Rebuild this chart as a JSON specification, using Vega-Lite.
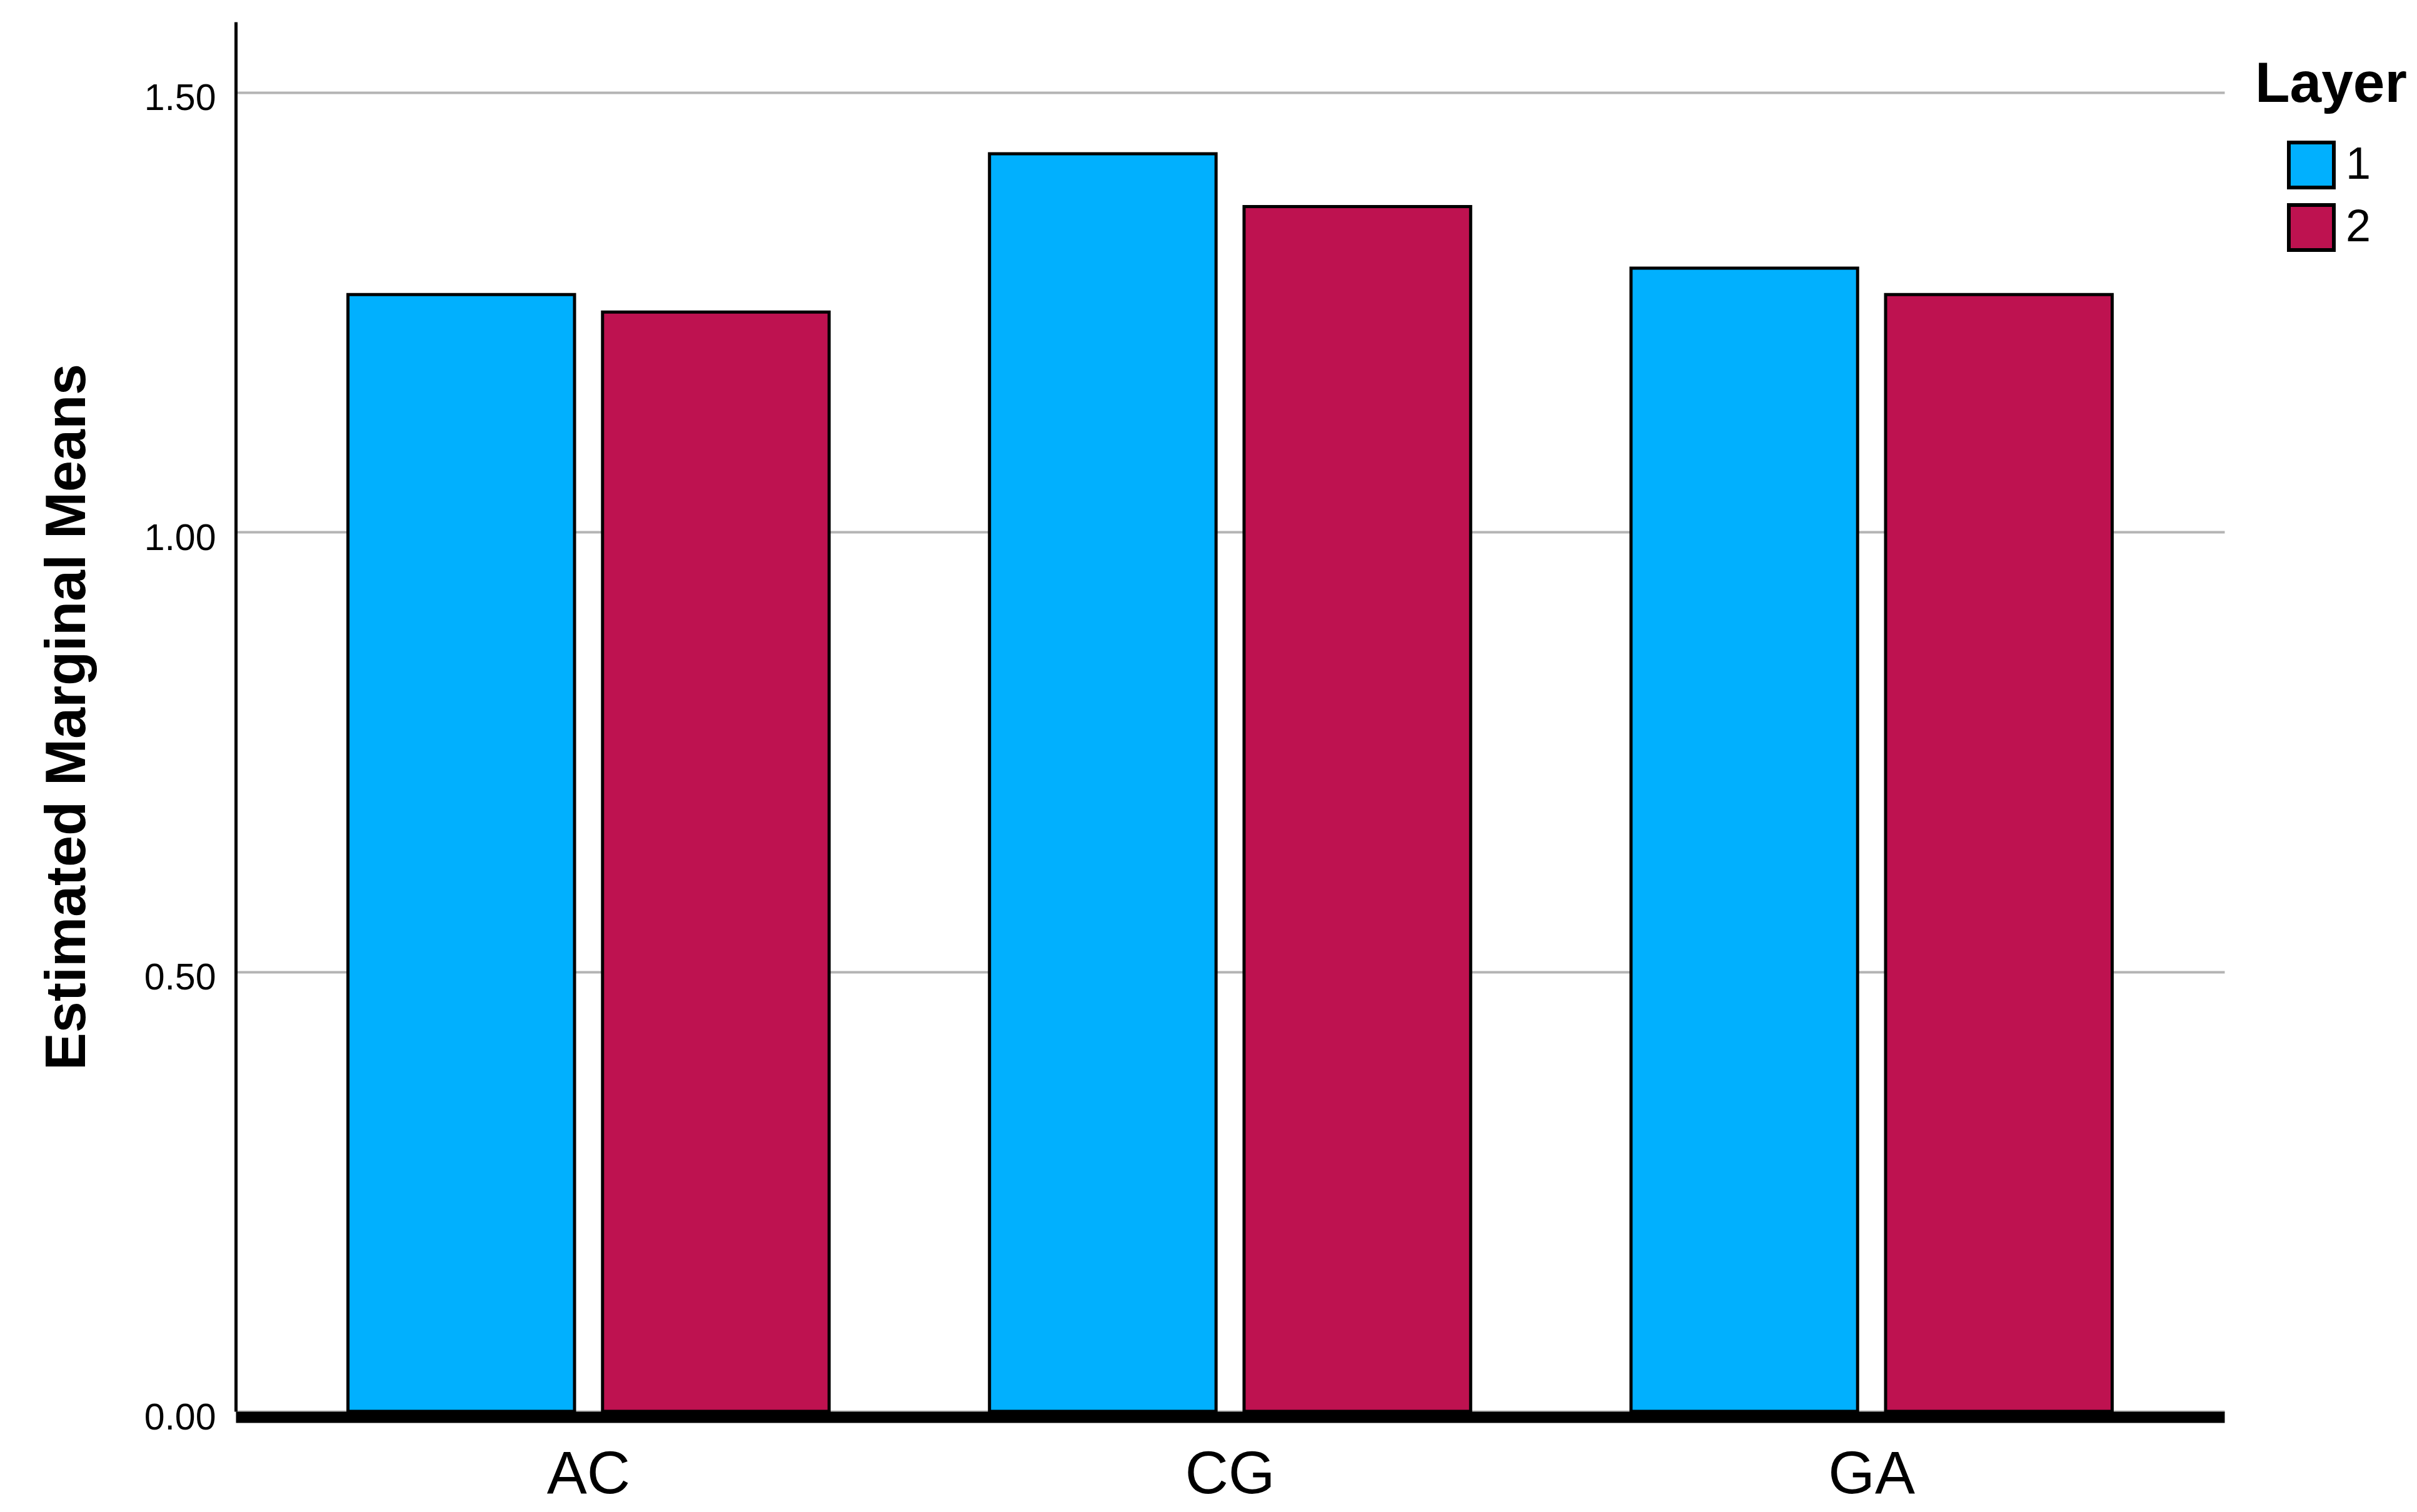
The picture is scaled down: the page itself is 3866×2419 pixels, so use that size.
{
  "$schema": "https://vega.github.io/schema/vega-lite/v6.json",
  "width": 3181,
  "height": 2223,
  "autosize": {"type": "none"},
  "padding": {"left": 377, "top": 35, "right": 308, "bottom": 161},
  "background": "white",
  "data": {
    "values": [
      {"Group": "AC", "Layer": "1", "Mean": 1.27},
      {"Group": "AC", "Layer": "2", "Mean": 1.25},
      {"Group": "CG", "Layer": "1", "Mean": 1.43},
      {"Group": "CG", "Layer": "2", "Mean": 1.37},
      {"Group": "GA", "Layer": "1", "Mean": 1.30},
      {"Group": "GA", "Layer": "2", "Mean": 1.27}
    ]
  },
  "mark": {"type": "bar", "stroke": "black", "strokeWidth": 5},
  "encoding": {
    "x": {
      "field": "Group",
      "type": "nominal",
      "scale": {"paddingInner": 0.25, "paddingOuter": 0.175},
      "axis": {
        "title": null,
        "labelAngle": 0,
        "labelFont": "Liberation Sans",
        "labelFontSize": 96,
        "labelColor": "black",
        "labelPadding": 45,
        "ticks": false,
        "domainColor": "black",
        "domainWidth": 18,
        "offset": 9,
        "grid": false
      }
    },
    "xOffset": {
      "field": "Layer",
      "type": "nominal",
      "scale": {"paddingInner": 0.11, "paddingOuter": 0}
    },
    "y": {
      "field": "Mean",
      "type": "quantitative",
      "scale": {"domain": [0, 1.58], "nice": false, "zero": true},
      "axis": {
        "title": "Estimated Marginal Means",
        "titleFont": "Liberation Sans",
        "titleFontSize": 90,
        "titleFontWeight": "bold",
        "titleColor": "black",
        "titlePadding": 76,
        "values": [0, 0.5, 1, 1.5],
        "format": ".2f",
        "labelFont": "Liberation Sans",
        "labelFontSize": 59,
        "labelColor": "black",
        "labelPadding": 32,
        "labelOffset": 10,
        "ticks": false,
        "domainColor": "black",
        "domainWidth": 5,
        "grid": true,
        "gridColor": "#b4b4b4",
        "gridWidth": 4
      }
    },
    "color": {
      "field": "Layer",
      "type": "nominal",
      "scale": {"domain": ["1", "2"], "range": ["#01B0FE", "#BE1250"]},
      "legend": {
        "title": "Layer",
        "orient": "none",
        "legendX": 3230,
        "legendY": 56,
        "padding": 0,
        "titleFont": "Liberation Sans",
        "titleFontSize": 91,
        "titleFontWeight": "bold",
        "titleColor": "black",
        "titleLimit": 1000,
        "titlePadding": 43,
        "labelFont": "Liberation Sans",
        "labelFontSize": 72,
        "labelColor": "black",
        "labelOffset": 16,
        "symbolType": "square",
        "symbolSize": 5184,
        "symbolStrokeWidth": 6,
        "symbolStrokeColor": "black",
        "symbolOpacity": 1,
        "symbolOffset": 51,
        "rowPadding": 4
      }
    }
  },
  "config": {"view": {"stroke": null}}
}
